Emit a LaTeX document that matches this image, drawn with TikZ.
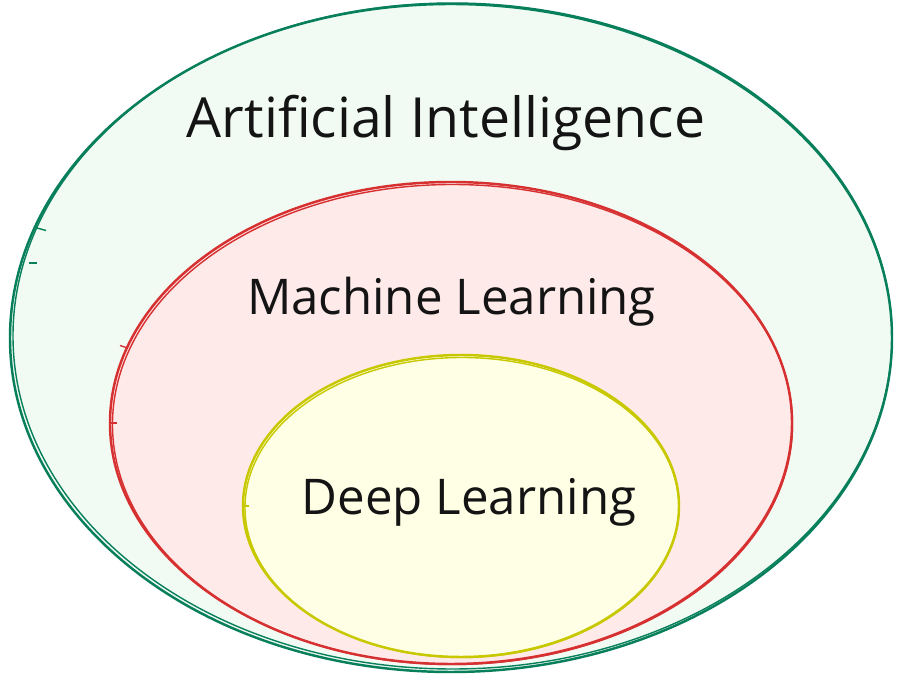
\documentclass[tikz,border=0pt]{standalone}
\usepackage{fontspec}
\setmainfont{Open Sans}
\usepackage{tikz}
\usetikzlibrary{calc}
\definecolor{aistroke}{RGB}{8,127,91}
\definecolor{aifill}{RGB}{241,251,243}
\definecolor{mlstroke}{RGB}{214,48,49}
\definecolor{mlfill}{RGB}{255,234,234}
\definecolor{dlstroke}{RGB}{200,200,0}
\definecolor{dlfill}{RGB}{255,255,230}
\definecolor{labelcol}{RGB}{20,20,20}

\begin{document}
\begin{tikzpicture}[
    ring/.style={line width=1.4pt},
    sketch/.style={line width=0.8pt},
    label/.style={text=labelcol, font=\fontsize{28}{32}\selectfont},
]

\path[use as bounding box] (0,0) rectangle (18,13.68);

% ════════════════════════════════════════════════════════
% 1. OUTER: ARTIFICIAL INTELLIGENCE
% ════════════════════════════════════════════════════════
\coordinate (AI) at (9.02, 6.92);
\draw[ring, aistroke, fill=aifill] (AI) ellipse [x radius=8.82, y radius=6.68];
\draw[sketch, aistroke] ($(AI)+(0.03,0.04)$) ellipse [x radius=8.79, y radius=6.66];
% little sketch ticks on the left
\draw[sketch, aistroke] ($(AI)+(-8.28,2.2)$) -- ++(0.18,-0.05);
\draw[sketch, aistroke] ($(AI)+(-8.45,1.5)$) -- ++(0.16,0.0);

\node[label, font=\fontsize{31.5}{34}\selectfont] (ailabel) at (8.92, 11.22)
    {Artificial Intelligence};

% ════════════════════════════════════════════════════════
% 2. MIDDLE: MACHINE LEARNING
% ════════════════════════════════════════════════════════
\coordinate (ML) at (9.02, 5.22);
\draw[ring, mlstroke, fill=mlfill] (ML) ellipse [x radius=6.82, y radius=4.82];
\draw[sketch, mlstroke] ($(ML)+(0.03,-0.03)$) ellipse [x radius=6.80, y radius=4.80];
\draw[sketch, mlstroke] ($(ML)+(-6.62,1.55)$) -- ++(0.12,-0.04);
\draw[sketch, mlstroke] ($(ML)+(-6.83,0)$) -- ++(0.14,0);

\node[label] (mllabel) at (9.03, 7.64) {Machine Learning};

% ════════════════════════════════════════════════════════
% 3. INNER: DEEP LEARNING
% ════════════════════════════════════════════════════════
\coordinate (DL) at (9.22, 3.56);
\draw[ring, dlstroke, fill=dlfill] (DL) ellipse [x radius=4.36, y radius=3.02];
\draw[sketch, dlstroke] ($(DL)+(0.02,-0.03)$) ellipse [x radius=4.34, y radius=3.00];
\draw[sketch, dlstroke] ($(DL)+(-4.36,0)$) -- ++(0.12,0);

\node[label] (dllabel) at (9.38, 3.64) {Deep Learning};

\end{tikzpicture}
\end{document}
